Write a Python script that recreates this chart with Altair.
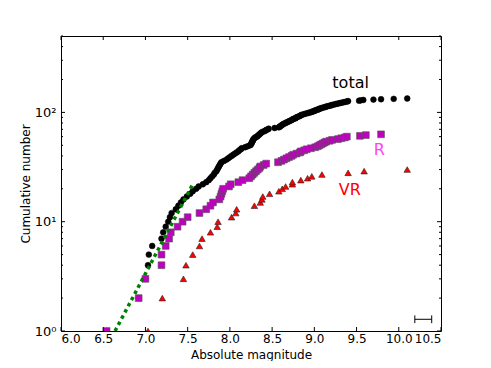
import altair as alt
import pandas as pd

# ---- data ----
total_mag = [6.54, 6.92, 7.00, 7.03, 7.04, 7.08, 7.19, 7.21, 7.24, 7.27,
             7.29, 7.31, 7.36, 7.39, 7.42, 7.45, 7.49, 7.53, 7.56, 7.60,
             7.63, 7.68, 7.72, 7.75, 7.77, 7.79, 7.81, 7.82, 7.84, 7.85,
             7.86, 7.87, 7.88, 7.89, 7.90, 7.93, 7.96, 7.98, 8.00, 8.02,
             8.04, 8.06, 8.08, 8.10, 8.11, 8.13, 8.14, 8.18, 8.21, 8.24,
             8.25, 8.255, 8.26, 8.265, 8.27, 8.275, 8.28, 8.29, 8.30, 8.32,
             8.33, 8.34, 8.35, 8.36, 8.37, 8.38, 8.40, 8.42, 8.43, 8.45,
             8.46, 8.53, 8.58, 8.59, 8.60, 8.61, 8.62, 8.63, 8.645, 8.66,
             8.67, 8.69, 8.70, 8.715, 8.73, 8.74, 8.75, 8.77, 8.78, 8.79,
             8.80, 8.82, 8.83, 8.84, 8.85, 8.87, 8.89, 8.91, 8.93, 8.95,
             8.97, 8.98, 9.00, 9.01, 9.02, 9.04, 9.05, 9.06, 9.08, 9.09,
             9.11, 9.13, 9.14, 9.16, 9.18, 9.20, 9.21, 9.23, 9.25, 9.27,
             9.29, 9.31, 9.33, 9.35, 9.37, 9.39, 9.40, 9.53, 9.55, 9.58,
             9.70, 9.79, 9.94, 10.10]
r_mag = [6.54, 6.92, 7.00, 7.19, 7.19, 7.24, 7.28, 7.30, 7.38, 7.44,
         7.50, 7.64, 7.72, 7.77, 7.80, 7.875, 7.89, 7.90, 7.91, 7.92,
         7.99, 8.01, 8.10, 8.15, 8.23, 8.25, 8.27, 8.29, 8.31, 8.33,
         8.35, 8.36, 8.40, 8.43, 8.57, 8.61, 8.64, 8.67, 8.70, 8.73,
         8.75, 8.79, 8.83, 8.84, 8.88, 8.91, 8.96, 9.01, 9.04, 9.06,
         9.08, 9.10, 9.12, 9.14, 9.18, 9.21, 9.28, 9.32, 9.36, 9.385,
         9.54, 9.61, 9.79]
vr_mag = [7.03, 7.20, 7.45, 7.48, 7.56, 7.64, 7.67, 7.77, 7.85, 7.86,
          8.02, 8.07, 8.08, 8.29, 8.36, 8.38, 8.39, 8.47, 8.58, 8.62,
          8.66, 8.74, 8.74, 8.84, 8.92, 8.97, 9.09, 9.40, 9.59, 10.10]
fit_mag = [6.64, 7.56]
fit_n = [1, 22]
err_mag = [10.19, 10.39]
err_n = [1.28]
err_cap_n = [1.18, 1.39]
label_text = ["total", "R", "VR"]
label_mag = [9.43, 9.77, 9.42]
label_n = [184, 45, 19.5]
label_color = ["#000000", "#ff44ee", "#ff0000"]
x_ticks = [6.0, 6.5, 7.0, 7.5, 8.0, 8.5, 9.0, 9.5, 10.0, 10.5]
y_major = [1, 10, 100]
y_minor = [2, 3, 4, 5, 6, 7, 8, 9, 20, 30, 40, 50, 60, 70, 80, 90,
           200, 300, 400, 500]

W, H = 380, 295

def cum(mags):
    return pd.DataFrame({"mag": mags, "n": list(range(1, len(mags) + 1))})

xs = alt.Scale(domain=[6, 10.5], nice=False, zero=False)
ys = alt.Scale(type="log", domain=[1, 500], nice=False)

X = alt.X("mag:Q", scale=xs,
          axis=alt.Axis(values=x_ticks, format=".1f", tickSize=0, domain=False,
                        grid=False, labelPadding=2, title="Absolute magnitude",
                        titlePadding=5, labelFontSize=12, titleFontSize=12,
                        titleFontWeight="normal", labelFont="DejaVu Sans",
                        titleFont="DejaVu Sans", labelColor="black", titleColor="black"))
Y = alt.Y("n:Q", scale=ys,
          axis=alt.Axis(values=y_major, tickSize=0, domain=False, grid=False,
                        labelPadding=5,
                        labelExpr="datum.value == 1 ? '10⁰' : datum.value == 10 ? '10¹' : '10²'",
                        title="Cumulative number", titlePadding=2,
                        labelFontSize=13, titleFontSize=12,
                        titleFontWeight="normal", labelFont="DejaVu Sans",
                        titleFont="DejaVu Sans", labelColor="black", titleColor="black"))

total = alt.Chart(cum(total_mag)).mark_point(
    shape="circle", filled=True, size=34, color="black", stroke="black",
    strokeWidth=0.5, opacity=1, clip=True).encode(x=X, y=Y)
rr = alt.Chart(cum(r_mag)).mark_point(
    shape="square", filled=True, size=46, fill="#bf00bf", stroke="#555555",
    strokeWidth=0.6, opacity=1, clip=True).encode(x="mag:Q", y="n:Q")
vr = alt.Chart(cum(vr_mag)).mark_point(
    shape="triangle-up", filled=True, size=42, fill="#ff0000", stroke="#222222",
    strokeWidth=0.6, opacity=1, clip=True).encode(x="mag:Q", y="n:Q")
fit = alt.Chart(pd.DataFrame({"mag": fit_mag, "n": fit_n})).mark_line(
    color="#008000", strokeWidth=3.5, strokeDash=[3.5, 3.5], clip=True
).encode(x="mag:Q", y="n:Q")

err_h = alt.Chart(pd.DataFrame({"a": [err_mag[0]], "b": [err_mag[1]], "n": err_n})).mark_rule(
    color="black", strokeWidth=1).encode(x="a:Q", x2="b:Q", y="n:Q")
err_caps = alt.Chart(pd.DataFrame({"mag": err_mag, "lo": [err_cap_n[0]] * 2,
                                   "hi": [err_cap_n[1]] * 2})).mark_rule(
    color="black", strokeWidth=1).encode(x="mag:Q", y="lo:Q", y2="hi:Q")

labels = alt.Chart(pd.DataFrame({"t": label_text, "mag": label_mag, "n": label_n,
                                 "c": label_color})).mark_text(
    fontSize=16, font="DejaVu Sans", align="center", baseline="middle").encode(
    x="mag:Q", y="n:Q", text="t:N", color=alt.Color("c:N", scale=None))

# inside ticks (matplotlib style)
xt = pd.DataFrame({"mag": x_ticks})
xt_bot = alt.Chart(xt).mark_rule(color="black", strokeWidth=1).encode(
    x="mag:Q", y=alt.value(H), y2=alt.value(H - 4))
xt_top = alt.Chart(xt).mark_rule(color="black", strokeWidth=1).encode(
    x="mag:Q", y=alt.value(0), y2=alt.value(4))
ymj = pd.DataFrame({"n": y_major})
ymn = pd.DataFrame({"n": y_minor})
ymj_l = alt.Chart(ymj).mark_rule(color="black", strokeWidth=1).encode(
    y="n:Q", x=alt.value(0), x2=alt.value(4))
ymj_r = alt.Chart(ymj).mark_rule(color="black", strokeWidth=1).encode(
    y="n:Q", x=alt.value(W), x2=alt.value(W - 4))
ymn_l = alt.Chart(ymn).mark_rule(color="black", strokeWidth=1).encode(
    y="n:Q", x=alt.value(0), x2=alt.value(2))
ymn_r = alt.Chart(ymn).mark_rule(color="black", strokeWidth=1).encode(
    y="n:Q", x=alt.value(W), x2=alt.value(W - 2))

chart = alt.layer(
    total, rr, vr, fit, err_h, err_caps, labels,
    xt_bot, xt_top, ymj_l, ymj_r, ymn_l, ymn_r
).properties(
    width=W, height=H,
    background="white",
    autosize=alt.AutoSizeParams(type="none"),
    padding={"left": 53, "top": 28, "right": 40, "bottom": 30},
).configure_view(
    stroke="black", strokeWidth=1
)

chart.save("out.html", embed_options={"renderer": "svg", "actions": False})
